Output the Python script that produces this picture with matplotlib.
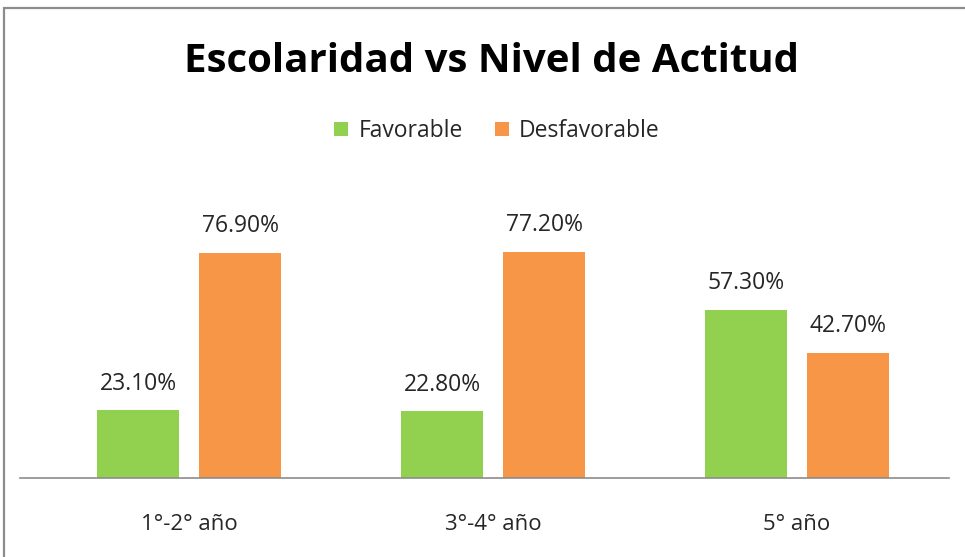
import matplotlib
matplotlib.use("Agg")
import matplotlib.pyplot as plt
from matplotlib.patches import Rectangle
import numpy as np

categories = ["1°-2° año", "3°-4° año", "5° año"]
favorable = [23.1, 22.8, 57.3]
desfavorable = [76.9, 77.2, 42.7]
series_names = ["Favorable", "Desfavorable"]
colors = ["#92D050", "#F79646"]

W, H = 965, 557
fig = plt.figure(figsize=(W / 100, H / 100), dpi=100)
plt.rcParams['font.family'] = ['Open Sans', 'DejaVu Sans']

# axes placement in pixels
ax_left, ax_right = 20, 949
ax_bottom, ax_top = 478, 185
ax = fig.add_axes([ax_left / W, 1 - ax_bottom / H, (ax_right - ax_left) / W, (ax_bottom - ax_top) / H])

x = np.arange(len(categories))
bw = 0.27
off = 0.168
b1 = ax.bar(x - off, favorable, bw, color=colors[0], label=series_names[0])
b2 = ax.bar(x + off, desfavorable, bw, color=colors[1], label=series_names[1])

for bars, vals in [(b1, favorable), (b2, desfavorable)]:
    for r, v in zip(bars, vals):
        ax.text(r.get_x() + r.get_width() / 2, v + 5.0, f"{v:.2f}%", ha="center", va="bottom",
                fontsize=16.5, color="#262626")

ax.set_xlim(-0.556, 2.5)
ax.set_ylim(0, 100)
for s in ["top", "right", "left"]:
    ax.spines[s].set_visible(False)
ax.spines["bottom"].set_color("#8c8c8c")
ax.spines["bottom"].set_linewidth(1.2)
ax.set_yticks([])
ax.set_xticks(x)
ax.set_xticklabels(categories, fontsize=16, color="#262626")
ax.tick_params(axis="x", length=0, pad=26)

fig.text(492 / W, 1 - 62 / H, "Escolaridad vs Nivel de Actitud", ha="center", va="center",
         fontsize=29, fontweight="bold", color="black")

leg = fig.legend(handles=[b1, b2], labels=series_names, loc="center", bbox_to_anchor=(497 / W, 1 - 131 / H),
                 ncol=2, frameon=False, fontsize=16.5, handlelength=0.6, handleheight=0.6,
                 handletextpad=0.45, columnspacing=1.4)
for t in leg.get_texts():
    t.set_color("#262626")

# outer chart frame (partially cropped)
fig.patches.append(Rectangle((4 / W, -0.1), 1.2, 1 - 8 / H + 0.1, transform=fig.transFigure,
                             fill=False, edgecolor="#8c8c8c", linewidth=1.6))

fig.savefig("out.png", dpi=100)
